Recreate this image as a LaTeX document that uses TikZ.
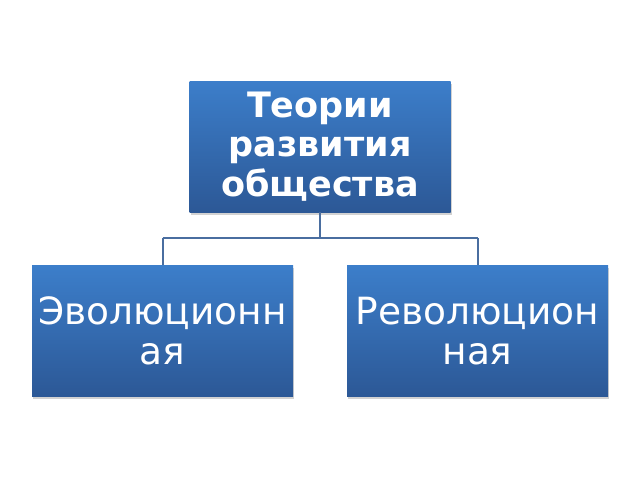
\documentclass[tikz,border=0pt]{standalone}
\usepackage{fontspec}
\setmainfont{DejaVu Sans}
\usetikzlibrary{shadows}
\definecolor{boxtop}{RGB}{60,126,202}
\definecolor{boxbot}{RGB}{44,88,150}
\definecolor{linec}{RGB}{74,110,160}
\begin{document}
\begin{tikzpicture}[x=1pt,y=-1pt,
  box/.style={rectangle, minimum width=261pt, minimum height=131pt,
    top color=boxtop, bottom color=boxbot, text=white, align=center,
    inner sep=0pt, font=\fontsize{37.5}{40}\selectfont,
    drop shadow={shadow xshift=1pt, shadow yshift=-2.5pt, opacity=0.35, fill=gray}},
  link/.style={draw=linec, line width=2pt}]
\fill[white] (0,0) rectangle (640,480);
\useasboundingbox (0,0) rectangle (640,480);
\node[box, font=\bfseries\fontsize{35}{39.5}\selectfont] (top) at (320,146.5) {Теории\\развития\\общества};
\node[box] (left) at (162.5,331) {Эволюционн\\ая};
\node[box] (right) at (477.5,331) {Революцион\\ная};
\coordinate (bus) at (320,238);
\coordinate (busl) at (162.5,238);
\coordinate (busr) at (477.5,238);
\draw[link] (top.south) -- (bus);
\draw[link] (busl) -- (busr);
\draw[link] (busl) -- (left.north);
\draw[link] (busr) -- (right.north);
\end{tikzpicture}
\end{document}
